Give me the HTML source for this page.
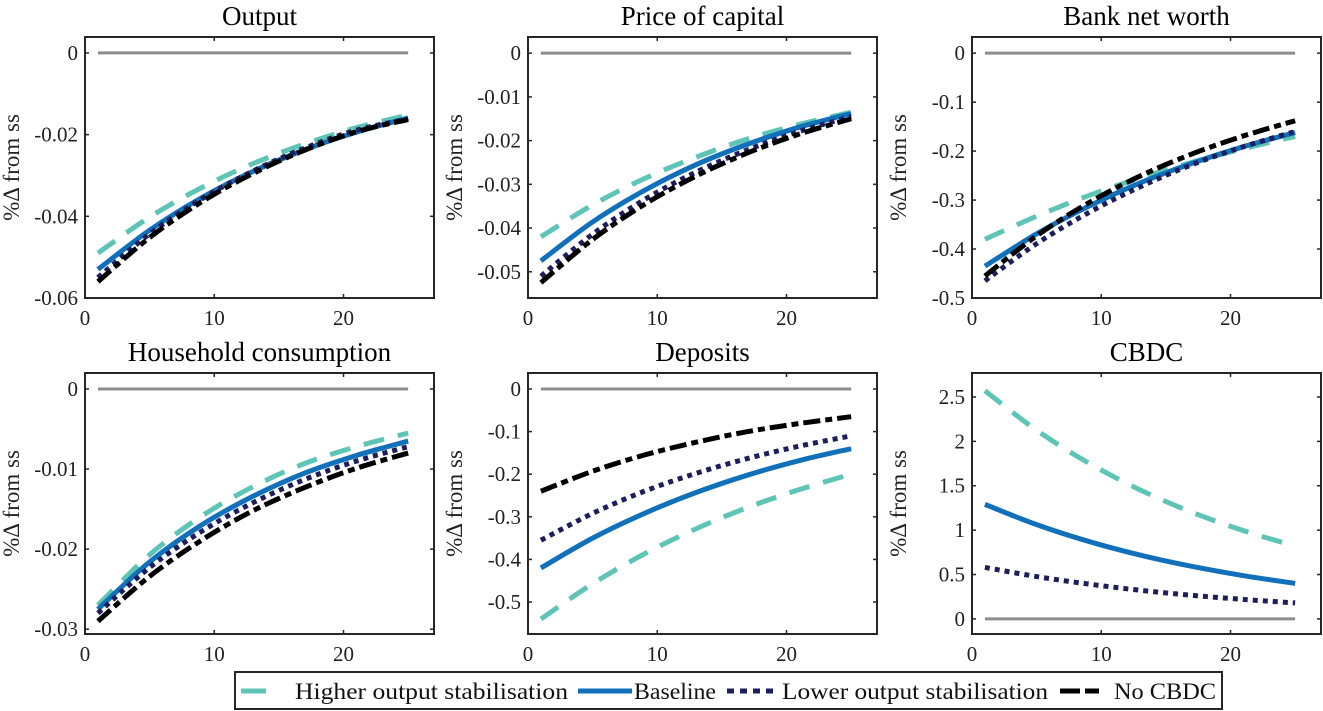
<!DOCTYPE html>
<html><head><meta charset="utf-8"><style>
html,body{margin:0;padding:0;background:#fff;}
svg{display:block;font-family:"Liberation Serif",serif;}
</style></head><body>
<svg id="fig" width="1323" height="711" viewBox="0 0 1323 711" xmlns="http://www.w3.org/2000/svg"></svg>
<script>
const periods = [1,5,9,13,17,21,25];
const titles = ["Output","Price of capital","Bank net worth","Household consumption","Deposits","CBDC"];
const outHigher = [-0.049,-0.0402,-0.033,-0.0271,-0.0223,-0.0183,-0.0152];
const outBase   = [-0.053,-0.0434,-0.0355,-0.029,-0.0237,-0.0194,-0.0159];
const outLower  = [-0.055,-0.0443,-0.0358,-0.0289,-0.0233,-0.0189,-0.0162];
const outNo     = [-0.056,-0.0452,-0.0365,-0.0295,-0.0238,-0.0193,-0.0163];
const pkHigher = [-0.042,-0.0347,-0.0287,-0.0238,-0.0196,-0.0163,-0.0135];
const pkBase   = [-0.0475,-0.0386,-0.0314,-0.0255,-0.0208,-0.0169,-0.0138];
const pkLower  = [-0.051,-0.0414,-0.0335,-0.0272,-0.0221,-0.0179,-0.0145];
const pkNo     = [-0.0525,-0.0426,-0.0346,-0.0281,-0.0228,-0.0185,-0.015];
const nwHigher = [-0.38,-0.333,-0.291,-0.255,-0.223,-0.195,-0.17];
const nwBase   = [-0.435,-0.369,-0.313,-0.265,-0.225,-0.191,-0.162];
const nwLower  = [-0.465,-0.389,-0.326,-0.273,-0.228,-0.191,-0.16];
const nwNo     = [-0.455,-0.373,-0.306,-0.251,-0.206,-0.169,-0.138];
const hcHigher = [-0.027,-0.0207,-0.0159,-0.0122,-0.0093,-0.0072,-0.0055];
const hcBase   = [-0.0275,-0.0216,-0.017,-0.0134,-0.0105,-0.0083,-0.0065];
const hcLower  = [-0.028,-0.0223,-0.0178,-0.0142,-0.0113,-0.009,-0.0072];
const hcNo     = [-0.029,-0.0234,-0.0189,-0.0152,-0.0123,-0.0099,-0.008];
const dpHigher = [-0.54,-0.457,-0.387,-0.328,-0.278,-0.236,-0.2];
const dpBase   = [-0.42,-0.35,-0.292,-0.243,-0.202,-0.168,-0.14];
const dpLower  = [-0.355,-0.292,-0.24,-0.198,-0.163,-0.134,-0.11];
const dpNo     = [-0.24,-0.193,-0.155,-0.125,-0.1,-0.081,-0.065];
const cbHigher = [2.57,2.125,1.758,1.454,1.202,0.994,0.82];
const cbBase   = [1.29,1.062,0.874,0.719,0.592,0.487,0.4];
const cbLower  = [0.58,0.477,0.393,0.323,0.266,0.219,0.18];
const yTicks = [
  [0,-0.02,-0.04,-0.06],
  [0,-0.01,-0.02,-0.03,-0.04,-0.05],
  [0,-0.1,-0.2,-0.3,-0.4,-0.5],
  [0,-0.01,-0.02,-0.03],
  [0,-0.1,-0.2,-0.3,-0.4,-0.5],
  [0,0.5,1,1.5,2,2.5]
];
const yTickLabels = [
  ["0","-0.02","-0.04","-0.06"],
  ["0","-0.01","-0.02","-0.03","-0.04","-0.05"],
  ["0","-0.1","-0.2","-0.3","-0.4","-0.5"],
  ["0","-0.01","-0.02","-0.03"],
  ["0","-0.1","-0.2","-0.3","-0.4","-0.5"],
  ["0","0.5","1","1.5","2","2.5"]
];
const xTicks = [0,10,20];
const yRanges = [[-0.06,0.0039],[-0.056,0.0037],[-0.5,0.033],[-0.0306,0.002],[-0.575,0.0375],[-0.17,2.77]];
const panelSeries = [
  [outHigher,outBase,outLower,outNo],
  [pkHigher,pkBase,pkLower,pkNo],
  [nwHigher,nwBase,nwLower,nwNo],
  [hcHigher,hcBase,hcLower,hcNo],
  [dpHigher,dpBase,dpLower,dpNo],
  [cbHigher,cbBase,cbLower,null]
];
const seriesNames = ["higher-output-stabilisation","baseline","lower-output-stabilisation","no-cbdc"];
const styles = [
  {c:"#5ec5b6",d:"21 14"},
  {c:"#1170ba",d:""},
  {c:"#1e1e5c",d:"5 5"},
  {c:"#000",d:"17 5 7 5"}
];
const NS="http://www.w3.org/2000/svg";
const svg=document.getElementById('fig');
function mk(tag,attrs,parent){const e=document.createElementNS(NS,tag);for(const k in attrs)e.setAttribute(k,attrs[k]);(parent||svg).appendChild(e);return e;}
const boxX=[85,528,972], boxY=[37,373], W=349, H=261;
function smooth(pts){let d="M"+pts[0][0]+","+pts[0][1];
  for(let i=0;i<pts.length-1;i++){const p0=pts[Math.max(0,i-1)],p1=pts[i],p2=pts[i+1],p3=pts[Math.min(pts.length-1,i+2)];
    const c1=[p1[0]+(p2[0]-p0[0])/6,p1[1]+(p2[1]-p0[1])/6],c2=[p2[0]-(p3[0]-p1[0])/6,p2[1]-(p3[1]-p1[1])/6];
    d+=" C"+c1[0]+","+c1[1]+" "+c2[0]+","+c2[1]+" "+p2[0]+","+p2[1];}
  return d;}
for(let p=0;p<6;p++){
  const bx=boxX[p%3], by=boxY[Math.floor(p/3)];
  const [y0,y1]=yRanges[p];
  const xs=v=>bx+v/27*W, ys=v=>by+H-(v-y0)/(y1-y0)*H;
  const g=mk('g',{});
  
  
  const t=mk('text',{x:bx+W/2,y:by-12,'text-anchor':'middle','font-size':27,fill:'#000'},g);t.textContent=titles[p];
  
  
  const yl=mk('text',{x:0,y:0,'text-anchor':'middle','font-size':23,fill:'#222',transform:`translate(${bx-66},${by+H/2}) rotate(-90)`},g);yl.textContent="%\u0394 from ss";
  
  
  const zl=mk('line',{x1:xs(1),x2:xs(25),y1:ys(0),y2:ys(0),stroke:'#8c8c8c','stroke-width':3},g);
  
  
  panelSeries[p].forEach((s,i)=>{ if(!s) return;
    const pts=periods.map((q,j)=>[xs(q),ys(s[j])]);
    const path=mk('path',{d:smooth(pts),fill:'none',stroke:styles[i].c,'stroke-width':5,'stroke-dasharray':styles[i].d},g);
    
    
  });
  const box=mk('rect',{x:bx,y:by,width:W,height:H,fill:'none',stroke:'#262626','stroke-width':2},g);
  
  
  yTicks[p].forEach((v,i)=>{const y=ys(v);
    mk('line',{x1:bx,x2:bx+4,y1:y,y2:y,stroke:'#262626','stroke-width':1.5},g);
    mk('line',{x1:bx+W-4,x2:bx+W,y1:y,y2:y,stroke:'#262626','stroke-width':1.5},g);
    const tl=mk('text',{x:bx-7,y:y+7,'text-anchor':'end','font-size':21,fill:'#222'},g);tl.textContent=yTickLabels[p][i];
    
    });
  xTicks.forEach(v=>{const x=xs(v);
    mk('line',{x1:x,x2:x,y1:by,y2:by+4,stroke:'#262626','stroke-width':1.5},g);
    mk('line',{x1:x,x2:x,y1:by+H-4,y2:by+H,stroke:'#262626','stroke-width':1.5},g);
    const tl=mk('text',{x:x,y:by+H+27,'text-anchor':'middle','font-size':21,fill:'#222'},g);tl.textContent=String(v);
    
    });
}
const lg=mk('g',{});


mk('rect',{x:235,y:672,width:987,height:37,fill:'#fff',stroke:'#262626','stroke-width':2},lg);
const legendLabels=["Higher output stabilisation","Baseline","Lower output stabilisation","No CBDC"];
// [lineStart, lineEnd, textStart, textLength]
const lx=[[241,266,295,273],[578,632,634,82],[727,777,782,266],[1060,1103,1114,102]];
const legDash=["","","7 6","20 5 14 5"];
legendLabels.forEach((l,i)=>{
  const e=mk('g',{},lg);
  
  
  mk('line',{x1:lx[i][0],x2:lx[i][1],y1:691,y2:691,stroke:styles[i].c,'stroke-width':5,'stroke-dasharray':legDash[i]},e);
  const t=mk('text',{x:lx[i][2],y:699,'font-size':23,fill:'#111',textLength:lx[i][3],lengthAdjust:'spacingAndGlyphs'},e);t.textContent=l;
});
</script>
</body></html>
